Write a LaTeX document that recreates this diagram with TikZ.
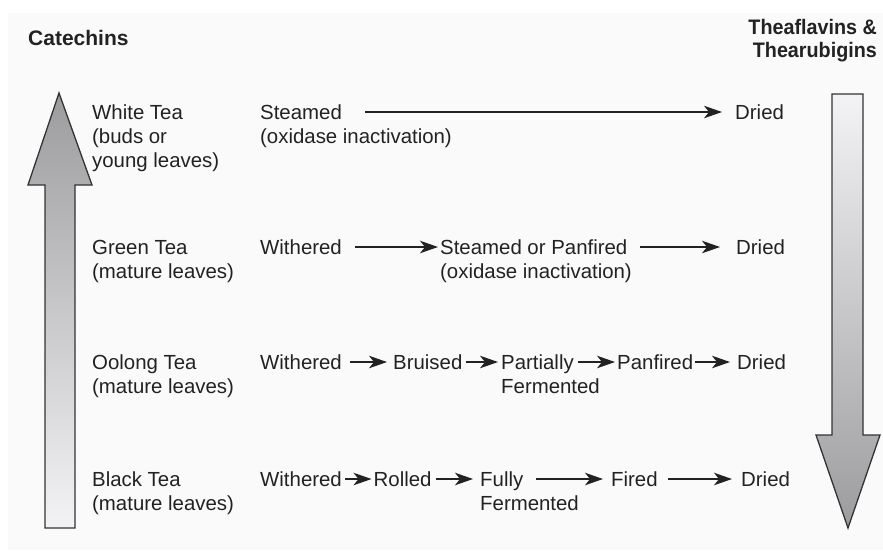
\documentclass[tikz,border=0pt]{standalone}
\usepackage{fontspec}
\setmainfont{Liberation Sans}
\usetikzlibrary{arrows.meta}
\definecolor{ink}{HTML}{222222}
\definecolor{bg}{HTML}{FAFAFA}
\definecolor{edge}{HTML}{333333}
\definecolor{darkfill}{HTML}{9C9C9E}
\definecolor{lightfill}{HTML}{F3F3F5}
\tikzset{
  txt/.style={font=\fontsize{20.4}{24}\selectfont, text=ink, inner sep=0pt, anchor=base west, align=left},
  ttl/.style={font=\fontsize{21}{24}\selectfont\bfseries, text=ink, inner sep=0pt},
  flow/.style={draw=ink, line width=1.4pt, -{Stealth[length=18pt,width=12.5pt,inset=5pt]}},
  bigarrow/.style={draw=edge, line width=1.3pt, line join=miter}
}
\begin{document}
\begin{tikzpicture}[x=1pt,y=-1pt]
\useasboundingbox (0,0) rectangle (883,550);
\fill[bg] (8,13) rectangle (883,550);

% big arrows
\draw[bigarrow, top color=darkfill, bottom color=lightfill]
  (59,93) -- (92,185) -- (75,185) -- (75,528) -- (45,528) -- (45,185) -- (28,185) -- cycle;
\draw[bigarrow, top color=lightfill, bottom color=darkfill]
  (832,94) -- (863,94) -- (863,435) -- (880,435) -- (848,528) -- (816,435) -- (832,435) -- cycle;

% titles
\node[ttl, anchor=base west] (cat) at (28,45) {Catechins};
\node[ttl, anchor=base east, xscale=0.94] (th1) at (877,34) {Theaflavins \&};
\node[ttl, anchor=base east, xscale=0.94] (th2) at (877,57) {Thearubigins};

% tea labels (base anchor = baseline of last line)
\node[txt] (white) at (92,167) {White Tea\\(buds or\\young leaves)};
\node[txt] (green) at (92,278) {Green Tea\\(mature leaves)};
\node[txt] (oolong) at (92,393) {Oolong Tea\\(mature leaves)};
\node[txt] (black) at (92,510) {Black Tea\\(mature leaves)};

% row 1
\node[txt] (s1) at (260,119) {Steamed};
\node[txt] (s1b) at (260,143) {(oxidase inactivation)};
\node[txt] (d1) at (735,119) {Dried};
\draw[flow] ([xshift=23pt,yshift=7pt]s1.base east) -- ([xshift=-13pt,yshift=7pt]d1.base west);

% row 2
\node[txt] (w2) at (260,254) {Withered};
\node[txt] (p2) at (440,254) {Steamed or Panfired};
\node[txt] (p2b) at (440,278) {(oxidase inactivation)};
\node[txt] (d2) at (736,254) {Dried};
\draw[flow] ([xshift=13pt,yshift=7pt]w2.base east) -- ([xshift=-2pt,yshift=7pt]p2.base west);
\draw[flow] ([xshift=12pt,yshift=7pt]p2.base east) -- ([xshift=-16pt,yshift=7pt]d2.base west);

% row 3
\node[txt] (w3) at (260,369) {Withered};
\node[txt] (br3) at (393,369) {Bruised};
\node[txt] (pa3) at (501,369) {Partially};
\node[txt] (pa3b) at (501,393) {Fermented};
\node[txt] (pf3) at (617,369) {Panfired};
\node[txt] (d3) at (737,369) {Dried};
\draw[flow] ([xshift=8pt,yshift=7pt]w3.base east) -- ([xshift=-6pt,yshift=7pt]br3.base west);
\draw[flow] ([xshift=3pt,yshift=7pt]br3.base east) -- ([xshift=-3pt,yshift=7pt]pa3.base west);
\draw[flow] ([xshift=4.5pt,yshift=7pt]pa3.base east) -- ([xshift=-2pt,yshift=7pt]pf3.base west);
\draw[flow] ([xshift=2pt,yshift=7pt]pf3.base east) -- ([xshift=-7pt,yshift=7pt]d3.base west);

% row 4
\node[txt] (w4) at (260,486) {Withered};
\node[txt] (r4) at (373.5,486) {Rolled};
\node[txt] (f4) at (480,486) {Fully};
\node[txt] (f4b) at (480,510) {Fermented};
\node[txt] (fi4) at (611,486) {Fired};
\node[txt] (d4) at (741,486) {Dried};
\draw[flow] ([xshift=3pt,yshift=7pt]w4.base east) -- ([xshift=-2pt,yshift=7pt]r4.base west);
\draw[flow] ([xshift=4pt,yshift=7pt]r4.base east) -- ([xshift=-7pt,yshift=7pt]f4.base west);
\draw[flow] ([xshift=13pt,yshift=7pt]f4.base east) -- ([xshift=-8pt,yshift=7pt]fi4.base west);
\draw[flow] ([xshift=10.5pt,yshift=7pt]fi4.base east) -- ([xshift=-9pt,yshift=7pt]d4.base west);
\end{tikzpicture}
\end{document}
